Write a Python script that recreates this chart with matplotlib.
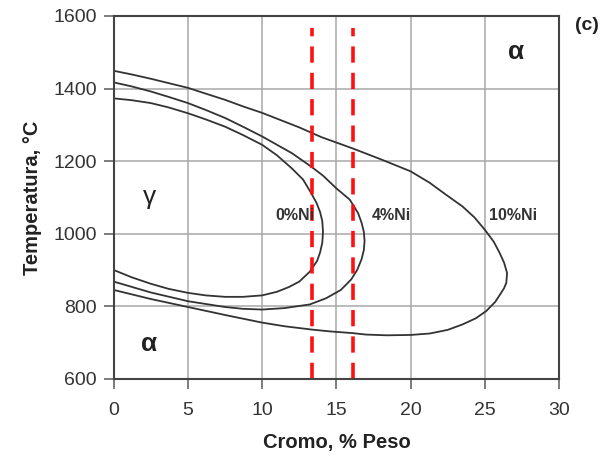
import matplotlib
matplotlib.use("Agg")
import matplotlib.pyplot as plt

plt.rcParams['font.family'] = ['Liberation Sans', 'DejaVu Sans']

# Data (Cr wt%, temperature C), going around each loop
ni0_cr = [0, 1.2, 2.5, 3.7, 5, 6.2, 7.5, 8.7, 10, 11.0, 12.0, 12.76, 13.3, 13.66, 13.9, 14.05, 14.1, 14.05, 13.9, 13.7, 13.2, 12.5, 11.8, 11.0, 10, 8.7, 7.5, 6.2, 5, 3.7, 2.5, 1.2, 0]
ni0_t = [1373, 1368, 1360, 1348, 1332, 1315, 1295, 1272, 1245, 1216, 1180, 1149, 1112, 1085, 1060, 1035, 1005, 975, 948, 925, 895, 868, 853, 840, 830, 826, 826, 830, 837, 848, 862, 880, 900]

ni4_cr = [0, 1.2, 2.5, 3.7, 5, 6.2, 7.5, 8.7, 10, 12.0, 13.3, 14.1, 15.0, 15.9, 16.46, 16.7, 16.85, 16.9, 16.85, 16.7, 16.4, 16.0, 15.3, 14.3, 13.2, 11.5, 10, 8.7, 7.5, 5, 2.5, 0]
ni4_t = [1417, 1406, 1392, 1377, 1360, 1341, 1319, 1295, 1268, 1222, 1185, 1160, 1125, 1094, 1057, 1030, 1005, 980, 955, 930, 900, 874, 845, 822, 805, 795, 791, 793, 798, 814, 838, 868]

ni10_cr = [0, 1.2, 2.5, 3.7, 5, 6.2, 7.5, 8.7, 10, 12.5, 14.0, 16.1, 18.0, 20, 21.3, 22.3, 23.5, 24.3, 25, 25.6, 26.0, 26.3, 26.5, 26.45, 26.3, 26.1, 25.7, 25.1, 24.4, 23.5, 22.5, 21.3, 20, 18.4, 17.0, 16.1, 14.5, 13.3, 11.5, 10, 7.5, 5, 2.5, 0]
ni10_t = [1449, 1439, 1427, 1415, 1402, 1386, 1369, 1351, 1333, 1293, 1266, 1235, 1205, 1172, 1140, 1110, 1075, 1045, 1011, 978, 947, 920, 892, 865, 850, 837, 812, 787, 767, 750, 735, 725, 721, 720, 722, 726, 731, 736, 745, 755, 776, 798, 820, 845]

loops = [(ni0_cr, ni0_t), (ni4_cr, ni4_t), (ni10_cr, ni10_t)]
loop_labels = ['0%Ni', '4%Ni', '10%Ni']
label_cr = [12.2, 18.7, 26.9]
label_t = [1050, 1050, 1050]

red_cr = [13.35, 16.1]
red_t = [600, 1567]

x_ticks = [0, 5, 10, 15, 20, 25, 30]
y_ticks = [600, 800, 1000, 1200, 1400, 1600]

fig = plt.figure(figsize=(6.05, 4.57), dpi=100)
ax = fig.add_axes([0.188, 0.171, 0.736, 0.794])

for cr, t in loops:
    ax.plot(cr, t, color='#333333', lw=1.3, solid_joinstyle='round')

for c in red_cr:
    ax.plot([c, c], red_t, color='#ff1010', lw=2.6, dashes=(4.5, 2.8), clip_on=False)

for lab, x, y in zip(loop_labels, label_cr, label_t):
    ax.text(x, y, lab, ha='center', va='center', fontsize=11.5, fontweight='bold', color='#333333')

ax.text(2.4, 1100, 'γ', ha='center', va='center', fontsize=19, color='#222222')
ax.text(2.4, 695, 'α', ha='center', va='center', fontsize=19, fontweight='bold', color='#222222')
ax.text(27.1, 1500, 'α', ha='center', va='center', fontsize=19, fontweight='bold', color='#222222')
fig.text(0.97, 0.945, '(c)', ha='center', va='center', fontsize=14, fontweight='bold', color='#222222')

ax.set_xlim(0, 30)
ax.set_ylim(600, 1600)
ax.set_xticks(x_ticks)
ax.set_yticks(y_ticks)
ax.grid(True, color='#a8a8a8', lw=1.1)
ax.set_axisbelow(True)
for s in ax.spines.values():
    s.set_color('#444444')
    s.set_linewidth(1.5)
ax.tick_params(direction='out', length=7, width=1.2, color='#666666', labelsize=14, labelcolor='#333333')
ax.tick_params(axis='x', pad=10)
ax.tick_params(axis='y', pad=5)

ax.set_xlabel('Cromo, % Peso', fontsize=14.5, fontweight='bold', color='#222222', labelpad=10)
ax.set_ylabel('Temperatura, °C', fontsize=14.5, fontweight='bold', color='#222222', labelpad=8)

fig.savefig('out.png', dpi=100)
